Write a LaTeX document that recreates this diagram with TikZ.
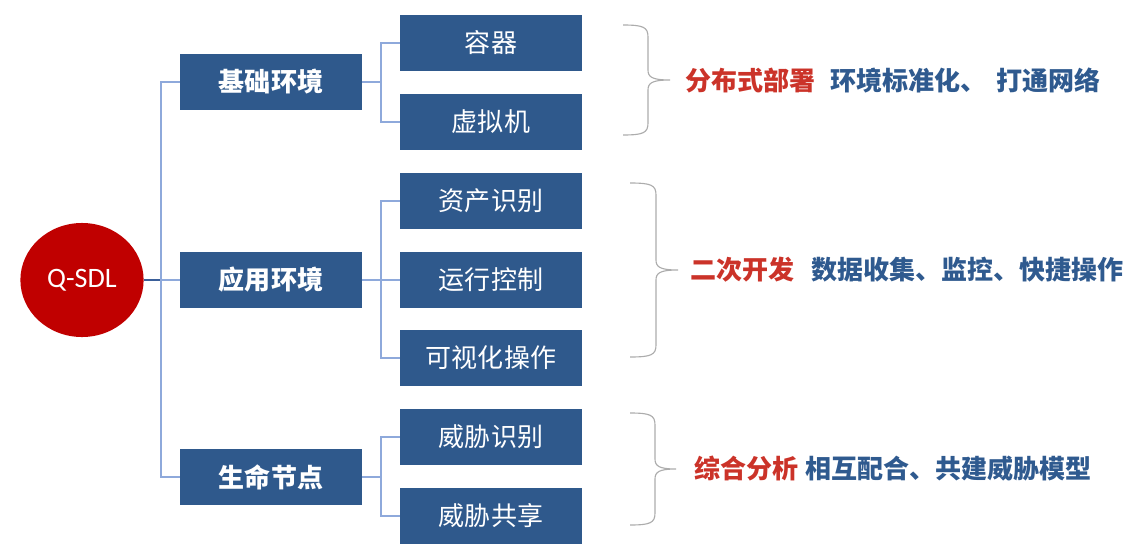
\documentclass[tikz,border=0pt]{standalone}
\usepackage{fontspec}
\newfontfamily\cjk{Noto Sans CJK SC}
\newfontfamily\latn{Carlito}
\usetikzlibrary{shapes.geometric, positioning}
\definecolor{boxblue}{HTML}{2F598C}
\definecolor{rootred}{HTML}{C00000}
\definecolor{notered}{HTML}{CB3329}
\definecolor{noteblue}{HTML}{2F5A8F}
\definecolor{linkblue}{HTML}{8EA9DB}
\definecolor{stemblue}{HTML}{3A5F99}
\tikzset{
  root/.style={
    ellipse, fill=rootred, minimum width=3.08cm, minimum height=2.85cm,
    inner sep=0pt, text=white, font=\latn\fontsize{20}{23}\selectfont
  },
  mainbox/.style={
    rectangle, fill=boxblue, minimum width=4.55cm, minimum height=1.38cm,
    inner sep=0pt, text=white, font=\cjk\bfseries\fontsize{18.5}{20}\selectfont
  },
  subbox/.style={mainbox, font=\cjk\fontsize{18.5}{20}\selectfont},
  link/.style={draw=linkblue, line width=0.8pt},
  stem/.style={draw=stemblue, line width=1pt},
  brace/.style={draw=gray!65, line width=0.8pt},
  note/.style={anchor=west, inner sep=0pt, font=\cjk\bfseries\fontsize{18.5}{20}\selectfont}
}

\begin{document}
\begin{tikzpicture}[x=0.025cm, y=-0.025cm]
  \useasboundingbox (0,0) rectangle (1144,559);

  \node[root] (q) at (82,280) {Q-SDL};

  \node[mainbox] (base) at (271,82) {基础环境};
  \node[mainbox] (app) at (271,280) {应用环境};
  \node[mainbox] (life) at (271,477) {生命节点};

  \node[subbox] (box) at (491,43) {容器};
  \node[subbox] (vm) at (491,122) {虚拟机};
  \node[subbox] (asset) at (491,201) {资产识别};
  \node[subbox] (ctrl) at (491,280) {运行控制};
  \node[subbox] (vis) at (491,358) {可视化操作};
  \node[subbox] (tid) at (491,437) {威胁识别};
  \node[subbox] (tsh) at (491,516) {威胁共享};

  \coordinate (hub) at (161,280);
  \coordinate (jbase) at (381,82);
  \coordinate (japp) at (381,280);
  \coordinate (jlife) at (381,477);

  \draw[stem] (q) -- (hub);
  \draw[link] (hub) |- (base);
  \draw[link] (hub) -- (app);
  \draw[link] (hub) |- (life);

  \draw[link] (base) -- (jbase);
  \draw[link] (jbase) |- (box);
  \draw[link] (jbase) |- (vm);
  \draw[link] (app) -- (japp);
  \draw[link] (japp) |- (asset);
  \draw[link] (japp) -- (ctrl);
  \draw[link] (japp) |- (vis);
  \draw[link] (life) -- (jlife);
  \draw[link] (jlife) |- (tid);
  \draw[link] (jlife) |- (tsh);

  % braces
  \draw[brace] (623,25) .. controls (643,25) and (648,27) .. (648,37) -- (648,70)
    .. controls (648,77) and (652,80) .. (670,80)
    .. controls (652,80) and (648,83) .. (648,90) -- (648,123)
    .. controls (648,133) and (643,135) .. (623,135);
  \draw[brace] (630,183) .. controls (651,183) and (656,185) .. (656,195) -- (656,260)
    .. controls (656,267) and (660,270) .. (678,270)
    .. controls (660,270) and (656,273) .. (656,280) -- (656,345)
    .. controls (656,355) and (651,357) .. (630,357);
  \draw[brace] (630,413) .. controls (650,413) and (655,415) .. (655,425) -- (655,459)
    .. controls (655,466) and (659,469) .. (676,469)
    .. controls (659,469) and (655,472) .. (655,479) -- (655,513)
    .. controls (655,523) and (650,525) .. (630,525);

  \node[note] (deploy) at (685,80)
    {\textcolor{notered}{分布式部署}\hspace{11pt}\textcolor{noteblue}{环境标准化、\hspace{7pt}打通网络}};
  \node[note] (devel) at (690,270)
    {\textcolor{notered}{二次开发}\hspace{12pt}\textcolor{noteblue}{数据收集、监控、快捷操作}};
  \node[note] (analy) at (694,469)
    {\textcolor{notered}{综合分析}\hspace{5pt}\textcolor{noteblue}{相互配合、共建威胁模型}};
\end{tikzpicture}
\end{document}
